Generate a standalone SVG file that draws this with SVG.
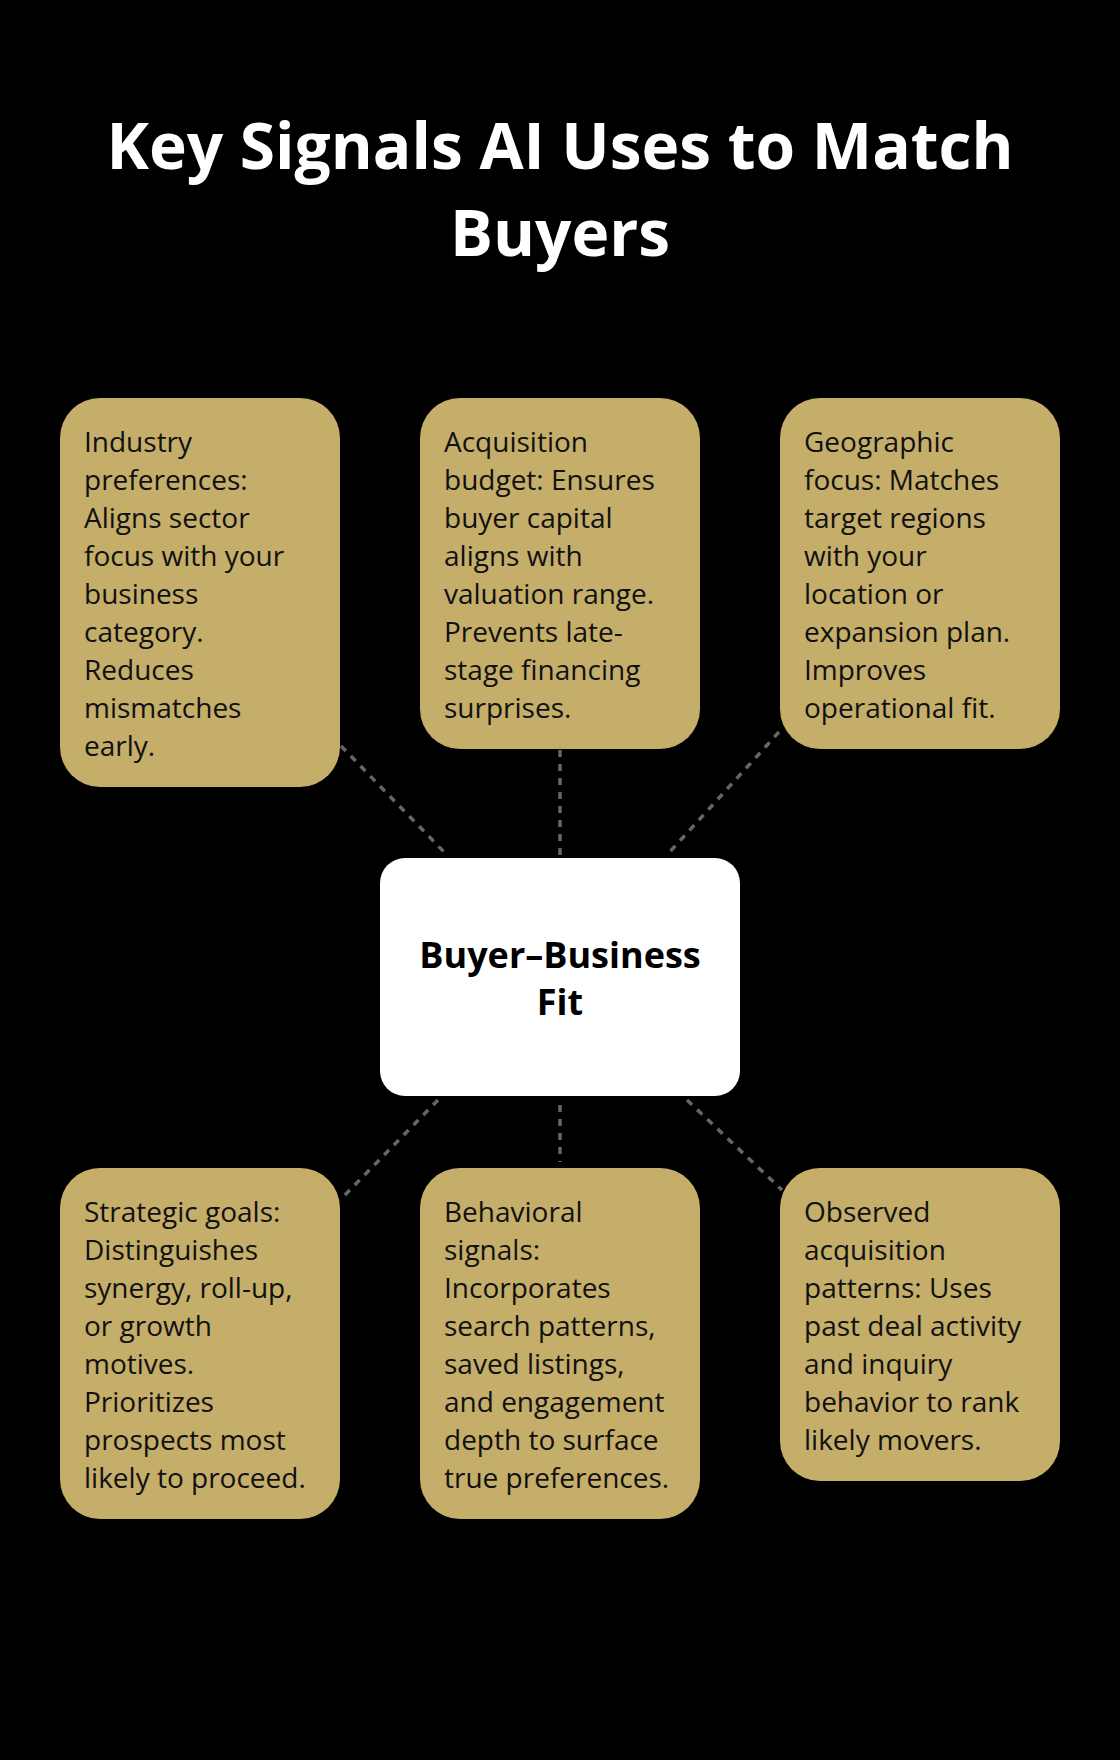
<svg xmlns="http://www.w3.org/2000/svg" width="1120" height="1760" viewBox="0 0 1120 1760">
<style>
.t{font-family:"Open Sans","Noto Sans",sans-serif;font-size:28px;fill:#111}
.h{font-family:"Open Sans","Noto Sans",sans-serif;font-weight:bold;font-size:64px;fill:#fff;text-anchor:middle}
.c{font-family:"Open Sans","Noto Sans",sans-serif;font-weight:bold;font-size:36px;fill:#000;text-anchor:middle}
.b{fill:#c5ad6a}
.l{stroke:#666;stroke-width:3.5;stroke-dasharray:7 7;fill:none}
</style>
<rect width="1120" height="1760" fill="#000"/>
<text class="h" x="560" y="169">Key Signals AI Uses to Match</text>
<text class="h" x="560" y="256">Buyers</text>
<g id="connectors">
<line class="l" x1="341" y1="746" x2="447" y2="855"/>
<line class="l" x1="560" y1="750" x2="560" y2="855"/>
<line class="l" x1="779" y1="732" x2="667" y2="855"/>
<line class="l" x1="438" y1="1100" x2="341" y2="1199"/>
<line class="l" x1="560" y1="1105" x2="560" y2="1162"/>
<line class="l" x1="687" y1="1100" x2="782" y2="1190"/>
</g>
<g id="center"><rect x="380" y="858" width="360" height="238" rx="25" fill="#fff"/>
<text class="c" x="560" y="968">Buyer–Business</text><text class="c" x="560" y="1015">Fit</text></g>
<g id="n1"><rect class="b" x="60" y="398" width="280" height="389" rx="40"/>
<text class="t" x="84" y="452">Industry<tspan x="84" dy="38">preferences:</tspan><tspan x="84" dy="38">Aligns sector</tspan><tspan x="84" dy="38">focus with your</tspan><tspan x="84" dy="38">business</tspan><tspan x="84" dy="38">category.</tspan><tspan x="84" dy="38">Reduces</tspan><tspan x="84" dy="38">mismatches</tspan><tspan x="84" dy="38">early.</tspan></text></g>
<g id="n2"><rect class="b" x="420" y="398" width="280" height="351" rx="40"/>
<text class="t" x="444" y="452">Acquisition<tspan x="444" dy="38">budget: Ensures</tspan><tspan x="444" dy="38">buyer capital</tspan><tspan x="444" dy="38">aligns with</tspan><tspan x="444" dy="38">valuation range.</tspan><tspan x="444" dy="38">Prevents late-</tspan><tspan x="444" dy="38">stage financing</tspan><tspan x="444" dy="38">surprises.</tspan></text></g>
<g id="n3"><rect class="b" x="780" y="398" width="280" height="351" rx="40"/>
<text class="t" x="804" y="452">Geographic<tspan x="804" dy="38">focus: Matches</tspan><tspan x="804" dy="38">target regions</tspan><tspan x="804" dy="38">with your</tspan><tspan x="804" dy="38">location or</tspan><tspan x="804" dy="38">expansion plan.</tspan><tspan x="804" dy="38">Improves</tspan><tspan x="804" dy="38">operational fit.</tspan></text></g>
<g id="n4"><rect class="b" x="60" y="1168" width="280" height="351" rx="40"/>
<text class="t" x="84" y="1222">Strategic goals:<tspan x="84" dy="38">Distinguishes</tspan><tspan x="84" dy="38">synergy, roll-up,</tspan><tspan x="84" dy="38">or growth</tspan><tspan x="84" dy="38">motives.</tspan><tspan x="84" dy="38">Prioritizes</tspan><tspan x="84" dy="38">prospects most</tspan><tspan x="84" dy="38">likely to proceed.</tspan></text></g>
<g id="n5"><rect class="b" x="420" y="1168" width="280" height="351" rx="40"/>
<text class="t" x="444" y="1222">Behavioral<tspan x="444" dy="38">signals:</tspan><tspan x="444" dy="38">Incorporates</tspan><tspan x="444" dy="38">search patterns,</tspan><tspan x="444" dy="38">saved listings,</tspan><tspan x="444" dy="38">and engagement</tspan><tspan x="444" dy="38">depth to surface</tspan><tspan x="444" dy="38">true preferences.</tspan></text></g>
<g id="n6"><rect class="b" x="780" y="1168" width="280" height="313" rx="40"/>
<text class="t" x="804" y="1222">Observed<tspan x="804" dy="38">acquisition</tspan><tspan x="804" dy="38">patterns: Uses</tspan><tspan x="804" dy="38">past deal activity</tspan><tspan x="804" dy="38">and inquiry</tspan><tspan x="804" dy="38">behavior to rank</tspan><tspan x="804" dy="38">likely movers.</tspan></text></g>
</svg>
